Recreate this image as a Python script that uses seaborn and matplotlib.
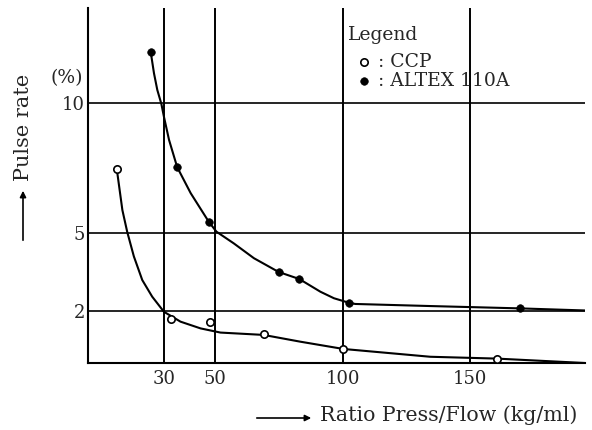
import numpy as np
import pandas as pd
import matplotlib
matplotlib.use("Agg")
import matplotlib.pyplot as plt
from matplotlib.patches import FancyArrowPatch
import seaborn as sns

ccp_x = [11.3, 32.4, 47.8, 69.1, 100.0, 160.3]
ccp_y = [7.46, 1.69, 1.58, 1.10, 0.54, 0.17]
altex_x = [24.6, 35.0, 47.4, 74.8, 82.9, 102.6, 169.6]
altex_y = [11.97, 7.53, 5.43, 3.50, 3.23, 2.31, 2.10]

# hand-drawn trend curves
ccp_curve_x = [11.3, 13.5, 15.4, 18.0, 21.3, 25.2, 29.8, 36.3, 44.2, 52.0, 68.9, 83.3, 100.2, 134.3, 160.3, 195.0]
ccp_curve_y = [7.46, 5.88, 5.04, 4.10, 3.19, 2.55, 1.97, 1.59, 1.33, 1.17, 1.08, 0.82, 0.54, 0.24, 0.17, 0.0]
altex_curve_x = [24.6, 25.9, 27.2, 28.8, 29.8, 31.8, 35.0, 40.3, 47.4, 50.4, 57.2, 65.1, 74.8,
                 82.9, 91.2, 96.5, 102.6, 104.9, 134.3, 169.6, 195.0]
altex_curve_y = [11.97, 11.14, 10.5, 9.96, 9.47, 8.58, 7.53, 6.53, 5.43, 5.05, 4.60, 4.03, 3.50,
                 3.23, 2.74, 2.49, 2.31, 2.27, 2.19, 2.10, 2.02]

x_grid = [30, 50, 100, 150]
y_grid = [2, 5, 10]

sns.set_style("white")
plt.rcParams['font.family'] = ['DejaVu Serif']

fig = plt.figure(figsize=(5.92, 4.30), dpi=100)
ax = fig.add_axes([0.1486, 0.1558, 0.8396, 0.8256])

for gx in x_grid:
    ax.axvline(gx, color="black", lw=1.4, zorder=1)
for gy in y_grid:
    ax.axhline(gy, color="black", lw=1.2, zorder=1)

sns.lineplot(x=ccp_curve_x, y=ccp_curve_y, sort=False, color="black", lw=1.5, ax=ax, zorder=2)
sns.lineplot(x=altex_curve_x, y=altex_curve_y, sort=False, color="black", lw=1.5, ax=ax, zorder=2)

sns.scatterplot(x=ccp_x, y=ccp_y, marker="o", s=28, facecolor="white",
                edgecolor="black", linewidth=1.2, ax=ax, zorder=3, label=": CCP")
sns.scatterplot(x=altex_x, y=altex_y, marker="o", s=30, color="black",
                edgecolor="black", ax=ax, zorder=3, label=": ALTEX 110A")

ax.set_xlim(0, 195)
ax.set_ylim(0, 13.65)
ax.set_xticks(x_grid)
ax.set_yticks(y_grid)
ax.tick_params(axis="x", length=0, labelsize=13, pad=5)
ax.tick_params(axis="y", length=0, labelsize=13, pad=2)
for s in ["top", "right"]:
    ax.spines[s].set_visible(False)
for s in ["left", "bottom"]:
    ax.spines[s].set_color("black")
    ax.spines[s].set_linewidth(1.5)

# legend: title as separate text, entries below
fig.text(348 / 592, 1 - 35 / 430, "Legend", ha="left", va="center", fontsize=13.5)
leg = ax.legend(loc="upper left", bbox_to_anchor=(355 / 592, 1 - 53 / 430),
                bbox_transform=fig.transFigure, frameon=False, fontsize=13.5,
                handletextpad=0.25, handlelength=1.0, labelspacing=0.06, borderpad=0.0,
                borderaxespad=0.0)

# axis labels with arrows
fig.text(24 / 592, 1 - 127 / 430, "Pulse rate", rotation=90, ha="center", va="center", fontsize=15)
fig.text(67 / 592, 1 - 78 / 430, "(%)", ha="center", va="center", fontsize=13.5)
fig.text(320 / 592, 1 - 415 / 430, "Ratio Press/Flow (kg/ml)", ha="left", va="center", fontsize=14.8)
fig.add_artist(FancyArrowPatch(
    (23 / 592, 1 - 243 / 430), (23 / 592, 1 - 188 / 430), transform=fig.transFigure,
    arrowstyle="-|>", mutation_scale=9, color="black", lw=1.2))
fig.add_artist(FancyArrowPatch(
    (254 / 592, 1 - 418 / 430), (314 / 592, 1 - 418 / 430), transform=fig.transFigure,
    arrowstyle="-|>", mutation_scale=9, color="black", lw=1.2))

fig.savefig("out.png", dpi=100)
